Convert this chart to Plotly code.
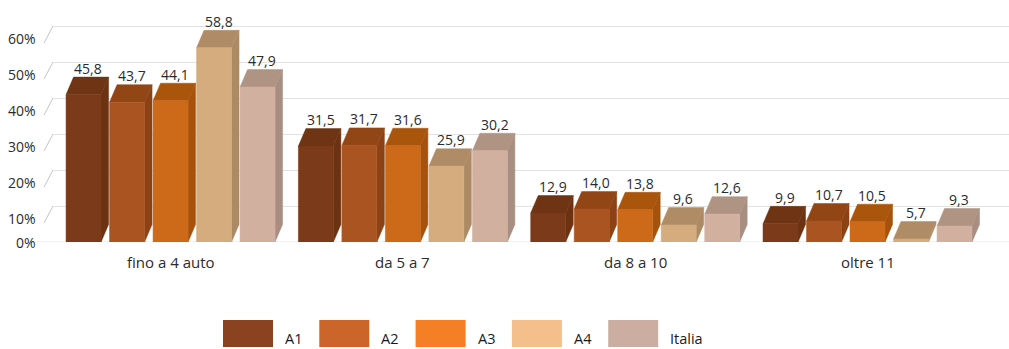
import plotly.graph_objects as go

# Data
categories = ["fino a 4 auto", "da 5 a 7", "da 8 a 10", "oltre 11"]
series_names = ["A1", "A2", "A3", "A4", "Italia"]
a1 = [45.8, 31.5, 12.9, 9.9]
a2 = [43.7, 31.7, 14.0, 10.7]
a3 = [44.1, 31.6, 13.8, 10.5]
a4 = [58.8, 25.9, 9.6, 5.7]
italia = [47.9, 30.2, 12.6, 9.3]
y_ticks = [0, 10, 20, 30, 40, 50, 60]
y_tick_labels = ["0%", "10%", "20%", "30%", "40%", "50%", "60%"]

series_values = [a1, a2, a3, a4, italia]

# Styling: front / top / side face colours and legend swatches
front_colors = ["#7B3A19", "#AA5521", "#CD6A1A", "#D4AC7E", "#D2B0A0"]
top_colors = ["#6F3413", "#924515", "#AA550C", "#B08C66", "#AF9484"]
side_colors = ["#6C3211", "#8C4214", "#A6520C", "#AC8A64", "#A88E80"]
legend_colors = ["#8B4220", "#CB6529", "#F57F24", "#F5BF8B", "#CBAEA1"]

W, H = 1009, 349
M_L, M_R, M_T, M_B = 53, 0, 0, 107
PLOT_W = W - M_L - M_R
PLOT_H = H - M_T - M_B
PX_PER_UNIT_Y = 3.6
Y_MAX = PLOT_H / PX_PER_UNIT_Y
X_MIN, X_MAX = -0.506, 3.609
PX_PER_UNIT_X = PLOT_W / (X_MAX - X_MIN)

BAR_W = 35 / PX_PER_UNIT_X
BAR_PITCH = 43.5 / PX_PER_UNIT_X
DX = 7.5 / PX_PER_UNIT_X
DY = 17.5 / PX_PER_UNIT_Y

FONT = "Open Sans"
TEXT_COLOR = "#2b2b2b"


def paper_x(px):
    return (px - M_L) / PLOT_W


def paper_y(py):
    return (M_T + PLOT_H - py) / PLOT_H


fig = go.Figure()
annotations = []
shapes = []

for j, (name, vals) in enumerate(zip(series_names, series_values)):
    side_x, side_y, top_x, top_y, front_x, front_y = [], [], [], [], [], []
    for i, v in enumerate(vals):
        c = i + (j - 2) * BAR_PITCH
        x0, x1 = c - BAR_W / 2, c + BAR_W / 2
        yf = v - DY
        side_x += [x1, x1, x1 + DX, x1 + DX, x1, None]
        side_y += [0, yf, v, DY, 0, None]
        top_x += [x0, x1, x1 + DX, x0 + DX, x0, None]
        top_y += [yf, yf, v, v, yf, None]
        front_x += [x0, x1, x1, x0, x0, None]
        front_y += [0, 0, yf, yf, 0, None]
        annotations.append(dict(
            x=c + DX / 2, y=v, xref="x", yref="y", text=f"{v:.1f}".replace(".", ","),
            showarrow=False, yanchor="middle", yshift=9, xshift=1,
            font=dict(family=FONT, size=14, color=TEXT_COLOR)))
    for xs, ys, col in [(side_x, side_y, side_colors[j]),
                        (top_x, top_y, top_colors[j]),
                        (front_x, front_y, front_colors[j])]:
        fig.add_trace(go.Scatter(
            x=xs, y=ys, mode="lines", fill="toself", fillcolor=col,
            line=dict(color=col, width=0.5), name=name, showlegend=False,
            hoverinfo="skip"))

# Category labels
for i, cat in enumerate(categories):
    annotations.append(dict(
        x=i, y=0, xref="x", yref="y", text=cat, showarrow=False,
        yanchor="middle", yshift=-20,
        font=dict(family=FONT, size=15, color=TEXT_COLOR)))

# Y-axis labels with the slanted wall ticks
for t, lab in zip(y_ticks, y_tick_labels):
    annotations.append(dict(
        x=paper_x(38), y=t, xref="paper", yref="y", text=lab, showarrow=False,
        xanchor="right", yanchor="middle", yshift=(-12 if t > 0 else 0),
        font=dict(family=FONT, size=14, color=TEXT_COLOR)))
    if t > 0:
        shapes.append(dict(
            type="line", xref="paper", yref="y",
            x0=paper_x(44), y0=t - 17 / PX_PER_UNIT_Y, x1=paper_x(53), y1=t,
            line=dict(color="#c4c4c4", width=1), layer="below"))

# Floor line
shapes.append(dict(type="line", xref="paper", yref="y", x0=paper_x(37), x1=1,
                   y0=0, y1=0, line=dict(color="#e2e2e2", width=1), layer="below"))

# Legend swatches
for j, name in enumerate(series_names):
    left = 223 + 96.3 * j
    shapes.append(dict(type="rect", xref="paper", yref="paper",
                       x0=paper_x(left), x1=paper_x(left + 50),
                       y0=paper_y(347), y1=paper_y(320),
                       fillcolor=legend_colors[j], line=dict(width=0)))
    annotations.append(dict(
        x=paper_x(left + 60), y=paper_y(338), xref="paper", yref="paper",
        text=name, showarrow=False, xanchor="left", yanchor="middle",
        font=dict(family="Open Sans", size=14.5, color="#1a1a1a")))

fig.update_layout(
    width=W, height=H,
    margin=dict(l=M_L, r=M_R, t=M_T, b=M_B),
    paper_bgcolor="white", plot_bgcolor="white",
    showlegend=False,
    xaxis=dict(range=[X_MIN, X_MAX], showgrid=False, zeroline=False,
               showticklabels=False, ticks="", fixedrange=True),
    yaxis=dict(range=[0, Y_MAX], showgrid=True, gridcolor="#e2e2e2", gridwidth=1,
               tick0=0, dtick=10, zeroline=False, showticklabels=False,
               ticks="", fixedrange=True),
    annotations=annotations,
    shapes=shapes,
)

fig.write_html("out.html")
